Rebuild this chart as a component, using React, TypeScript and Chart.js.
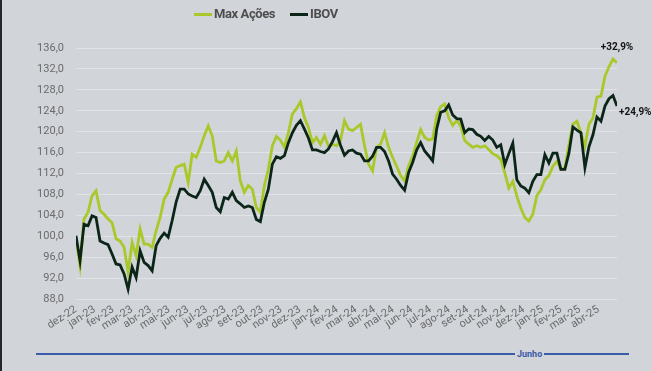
import React, { useEffect, useRef } from "react";
import { Chart, registerables } from "chart.js";

Chart.register(...registerables);

const monthLabels = [
  "dez-22", "jan-23", "fev-23", "mar-23", "abr-23", "mai-23", "jun-23", "jul-23",
  "ago-23", "set-23", "out-23", "nov-23", "dez-23", "jan-24", "fev-24", "mar-24",
  "abr-24", "mai-24", "jun-24", "jul-24", "ago-24", "set-24", "out-24", "nov-24",
  "dez-24", "jan-25", "fev-25", "mar-25", "abr-25",
];

// months covered by the series (dez-22 start to end of mai-25)
const spanMonths = 29;

const maxAcoes = [
  99.5, 94.4, 103.3, 104.6, 107.7, 108.7, 104.9, 104.2, 103.3, 102.6, 99.5, 99.1, 97.9, 93.2, 98.8, 96.3, 101.4, 98.5, 98.5, 97.9, 101.1, 103.6, 107.1, 108.4, 110.9, 113.2, 113.5, 113.8, 110.3, 115.7, 115.1, 117.0, 119.2, 121.1, 119.2,
  114.4, 114.1, 114.4, 116.0, 114.4, 116.3, 110.6, 108.4, 109.7, 109.0, 105.5, 104.6, 109.7, 112.8, 117.3, 119.1, 118.4, 117.0, 119.8, 123.4, 124.4, 125.7, 122.7, 120.8, 117.9, 118.9, 117.6, 119.2, 117.2, 117.6, 117.3, 118.3, 122.1,
  120.5, 120.2, 120.8, 121.4, 117.3, 113.8, 112.5, 117.0, 117.6, 119.8, 117.0, 115.1, 113.4, 111.6, 110.6, 113.5, 115.3, 117.9, 120.4, 118.9, 118.4, 118.6, 123.0, 124.8, 125.3, 122.7, 121.2, 122.1, 121.1, 118.3, 117.6, 117.0, 117.3, 117.0, 117.3,
  116.6, 115.8, 115.4, 114.7, 112.1, 109.2, 110.5, 107.7, 105.4, 103.6, 102.9, 104.2, 107.8, 108.9, 110.8, 111.6, 113.4, 114.3, 112.8, 113.1, 117.5, 121.4, 122.0, 119.8, 117.2, 121.4, 122.6, 126.6, 126.8, 130.6, 132.4, 133.9, 133.2,
];

const ibov = [
  100.1, 95.3, 102.3, 102.0, 103.9, 103.6, 99.1, 98.7, 98.4, 96.6, 94.7, 94.5, 92.8, 89.9, 94.1, 92.1, 97.2, 95.0, 94.4, 93.4, 98.2, 99.6, 100.6, 99.8, 103.0, 106.6, 109.0, 109.0, 108.1, 107.7, 107.4, 108.7, 110.9, 109.7, 108.4,
  105.5, 104.7, 107.4, 107.1, 108.4, 106.8, 106.2, 105.5, 105.8, 105.5, 103.2, 102.8, 106.5, 109.0, 113.8, 115.2, 114.9, 115.4, 117.9, 119.8, 121.2, 122.1, 120.5, 118.8, 116.5, 116.5, 116.2, 116.0, 116.7, 118.1, 119.8, 117.4, 115.5,
  116.3, 116.5, 115.9, 115.7, 114.4, 114.4, 115.3, 117.0, 117.0, 116.2, 114.4, 111.9, 110.9, 109.7, 108.8, 112.2, 114.1, 116.5, 117.9, 116.3, 115.4, 114.4, 120.5, 123.7, 124.0, 125.1, 123.2, 122.5, 122.4, 119.8, 120.5, 120.4, 119.5, 119.1, 118.3,
  119.1, 118.4, 117.0, 117.5, 113.7, 115.8, 117.8, 110.8, 109.6, 109.2, 108.3, 110.5, 111.8, 111.8, 115.6, 114.0, 115.9, 115.9, 112.8, 112.8, 115.9, 120.9, 120.3, 119.8, 113.1, 117.1, 119.4, 122.8, 122.0, 124.9, 126.3, 126.9, 124.9,
];

const seriesNames = ["Max Ações", "IBOV"];
const endLabels = ["+32,9%", "+24,9%"];
const yTicksMin = 88;
const yTicksMax = 136;
const yStep = 4;

const GREEN = "#a8c929";
const DARK = "#0b2619";
const BG = "#d1d4d9";
const BLUE = "#3b5ca8";

const toPoints = (arr: number[]) =>
  arr.map((v, i) => ({ x: (i * spanMonths) / (arr.length - 1), y: v }));

const endLabelPlugin = {
  id: "endLabels",
  afterDatasetsDraw(chart: any) {
    const ctx = chart.ctx;
    ctx.save();
    ctx.font = "bold 10px Roboto";
    ctx.fillStyle = "#141414";
    ctx.textBaseline = "middle";
    chart.data.datasets.forEach((ds: any, i: number) => {
      const meta = chart.getDatasetMeta(i);
      const last = meta.data[meta.data.length - 1];
      if (!last) return;
      if (ds.label === seriesNames[0]) {
        ctx.textAlign = "center";
        ctx.fillText(endLabels[0], last.x, 47);
      } else {
        ctx.textAlign = "left";
        ctx.fillText(endLabels[1], last.x + 2, last.y + 6);
      }
    });
    ctx.restore();
  },
};

const legendText: React.CSSProperties = {
  position: "absolute",
  top: 5,
  fontWeight: 700,
  fontSize: 13,
  lineHeight: "18px",
  color: "#4d4d4d",
  whiteSpace: "nowrap",
  letterSpacing: "-0.4px",
};

export default function App() {
  const ref = useRef<HTMLCanvasElement>(null);

  useEffect(() => {
    if (!ref.current) return;
    const chart = new Chart(ref.current, {
      type: "line",
      data: {
        datasets: [
          {
            label: seriesNames[1],
            data: toPoints(ibov),
            borderColor: DARK,
            backgroundColor: DARK,
            borderWidth: 2.8,
            pointRadius: 0,
            tension: 0,
          },
          {
            label: seriesNames[0],
            data: toPoints(maxAcoes),
            borderColor: GREEN,
            backgroundColor: GREEN,
            borderWidth: 2.8,
            pointRadius: 0,
            tension: 0,
          },
        ],
      },
      options: {
        animation: false,
        responsive: false,
        devicePixelRatio: 1,
        layout: { padding: { top: 48, right: 35, left: 0, bottom: 0 } },
        plugins: { legend: { display: false }, tooltip: { enabled: false } },
        scales: {
          x: {
            type: "linear",
            min: 0,
            max: spanMonths,
            grid: { display: false, drawTicks: false },
            border: { display: false },
            ticks: {
              stepSize: 1,
              autoSkip: false,
              maxRotation: 33,
              minRotation: 33,
              padding: 4,
              color: "#6b6b6b",
              font: { family: "Roboto", size: 11 },
              callback: (v: any) => monthLabels[Number(v)] ?? "",
            },
            afterFit: (s: any) => {
              s.height = 72;
            },
          },
          y: {
            min: yTicksMin,
            max: yTicksMax,
            grid: { color: "#e1e3e6", lineWidth: 1, drawTicks: false },
            border: { display: false },
            ticks: {
              stepSize: yStep,
              padding: 12,
              color: "#6b6b6b",
              font: { family: "Roboto", size: 11 },
              callback: (v: any) => Number(v).toFixed(1).replace(".", ","),
            },
            afterFit: (s: any) => {
              s.width = 76;
            },
          },
        },
      },
      plugins: [endLabelPlugin],
    });
    return () => chart.destroy();
  }, []);

  return (
    <div
      style={{
        position: "fixed",
        left: 0,
        top: 0,
        width: 652,
        height: 371,
        background: BG,
        overflow: "hidden",
        fontFamily: "Roboto, sans-serif",
      }}
    >
      <canvas
        ref={ref}
        width={652}
        height={371}
        style={{ position: "absolute", left: 0, top: 0, width: 652, height: 371 }}
      />
      <div style={{ position: "absolute", left: 0, top: 0, width: 2, height: 371, background: "#262626" }} />
      <div style={{ position: "absolute", left: 194, top: 12.5, width: 18, height: 3, background: GREEN }} />
      <div style={{ ...legendText, left: 214 }}>{seriesNames[0]}</div>
      <div style={{ position: "absolute", left: 290, top: 12.5, width: 18, height: 3, background: DARK }} />
      <div style={{ ...legendText, left: 310 }}>{seriesNames[1]}</div>
      <div style={{ position: "absolute", left: 36, top: 353, width: 593, height: 2, background: BLUE }} />
      <div
        style={{
          position: "absolute",
          left: 515,
          top: 348,
          padding: "0 2px",
          background: BG,
          color: BLUE,
          fontWeight: 700,
          fontSize: 9,
          lineHeight: "12px",
        }}
      >
        Junho
      </div>
    </div>
  );
}
